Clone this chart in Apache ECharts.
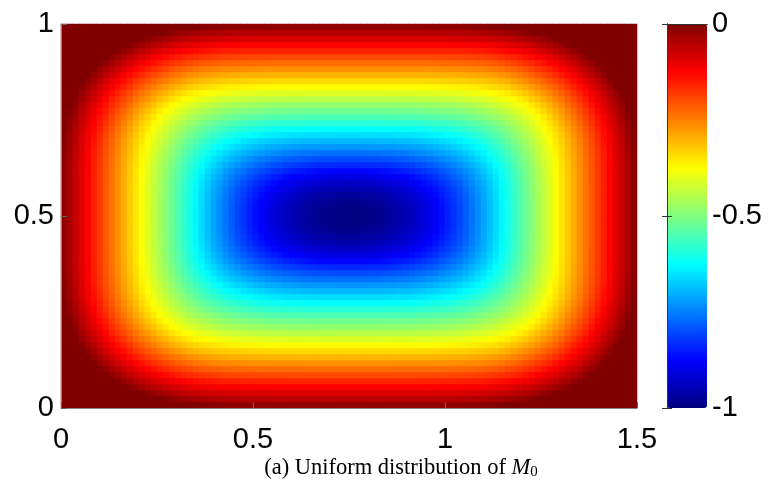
<!DOCTYPE html>
<html><head><meta charset="utf-8">
<script src="https://cdn.jsdelivr.net/npm/echarts@6/dist/echarts.min.js"></script>
<style>html,body{margin:0;padding:0;background:#fff}#c{width:769px;height:491px}</style>
</head><body><div id="c"></div>
<script>
// Tick labels
const xTicks = [0, 0.5, 1, 1.5];
const yTicks = [0, 0.5, 1];
const cbTicks = [-1, -0.5, 0];
const caption = '(a) Uniform distribution of ';

// Field value read along the horizontal mid-line (y = 0.5), 96 columns from x=0 to x=1.5
const xMid = [-0.014,-0.042,-0.070,-0.098,-0.127,-0.155,-0.183,-0.211,-0.239,-0.267,-0.295,-0.323,-0.352,-0.380,-0.408,-0.436,-0.464,-0.492,-0.520,-0.548,-0.577,-0.605,-0.633,-0.661,-0.688,-0.714,-0.739,-0.763,-0.785,-0.807,-0.827,-0.846,-0.864,-0.881,-0.897,-0.912,-0.925,-0.938,-0.949,-0.959,-0.968,-0.976,-0.983,-0.989,-0.993,-0.996,-0.999,-1.000,
  -1.000,-0.999,-0.996,-0.993,-0.989,-0.983,-0.976,-0.968,-0.959,-0.949,-0.938,-0.925,-0.912,-0.897,-0.881,-0.864,-0.846,-0.827,-0.807,-0.785,-0.763,-0.739,-0.714,-0.688,-0.661,-0.633,-0.605,-0.577,-0.548,-0.520,-0.492,-0.464,-0.436,-0.408,-0.380,-0.352,-0.323,-0.295,-0.267,-0.239,-0.211,-0.183,-0.155,-0.127,-0.098,-0.070,-0.042,-0.014];

// Field value read along the vertical mid-line (x = 0.75), 64 rows from y=0 to y=1
const yMid = [-0.018,-0.053,-0.089,-0.125,-0.160,-0.196,-0.232,-0.267,-0.303,-0.338,-0.374,-0.410,-0.445,-0.481,-0.517,-0.552,-0.588,-0.623,-0.659,-0.695,-0.730,-0.766,-0.802,-0.837,-0.873,-0.904,-0.932,-0.954,-0.972,-0.986,-0.995,-0.999,
  -0.999,-0.995,-0.986,-0.972,-0.954,-0.932,-0.904,-0.873,-0.837,-0.802,-0.766,-0.730,-0.695,-0.659,-0.623,-0.588,-0.552,-0.517,-0.481,-0.445,-0.410,-0.374,-0.338,-0.303,-0.267,-0.232,-0.196,-0.160,-0.125,-0.089,-0.053,-0.018];

// Contour roundness seen in the picture: elliptical core, rounded-rectangle outer rings
const coreShape = [1];
const edgeShape = [3];

const jet = ['#000080','#0000ff','#0080ff','#00ffff','#80ff80','#ffff00','#ff8000','#ff0000','#800000'];

const xCats = xMid.map((_, i) => i);
const yCats = yMid.map((_, j) => j);
const cells = [];
for (let i = 0; i < xMid.length; i++) {
  for (let j = 0; j < yMid.length; j++) {
    const gx = 1 + xMid[i], gy = 1 + yMid[j];
    const p = coreShape[0] + (edgeShape[0] - coreShape[0]) * Math.min(1, gx + gy);
    const r = Math.pow(Math.pow(gx, p) + Math.pow(gy, p), 1 / p);
    cells.push([i, j, -Math.max(0, 1 - r)]);
  }
}

const font = 'Liberation Sans';
const labelY = {fontSize: 29, color: '#000', fontFamily: font, padding: [6, 0, 0, 0]};
const chart = echarts.init(document.getElementById('c'), null, {renderer: 'canvas'});
chart.setOption({
  animation: false,
  backgroundColor: '#fff',
  grid: [
    {left: 61, top: 24, width: 576, height: 384},
    {left: 667, top: 24, width: 40, height: 384}
  ],
  xAxis: [
    {type: 'category', gridIndex: 0, data: xCats, show: false, position: 'top'},
    {type: 'value', gridIndex: 0, min: xTicks[0], max: xTicks[xTicks.length - 1], interval: xTicks[1] - xTicks[0], position: 'bottom', z: 5,
      axisLine: {show: true, lineStyle: {color: '#888', width: 1}},
      axisTick: {show: true, inside: true, length: 6, lineStyle: {color: '#666'}},
      axisLabel: {fontSize: 29, color: '#000', fontFamily: font, margin: 17},
      splitLine: {show: false}},
    {type: 'value', gridIndex: 1, min: 0, max: 1, position: 'bottom', z: 6,
      axisLine: {show: true, lineStyle: {color: '#333'}}, axisTick: {show: false}, axisLabel: {show: false}, splitLine: {show: false}},
    {type: 'value', gridIndex: 1, min: 0, max: 1, position: 'top', z: 6,
      axisLine: {show: true, lineStyle: {color: '#333'}}, axisTick: {show: false}, axisLabel: {show: false}, splitLine: {show: false}}
  ],
  yAxis: [
    {type: 'category', gridIndex: 0, data: yCats, show: false, position: 'right'},
    {type: 'value', gridIndex: 0, min: yTicks[0], max: yTicks[yTicks.length - 1], interval: yTicks[1] - yTicks[0], position: 'left', z: 5,
      axisLine: {show: true, lineStyle: {color: '#888', width: 1}},
      axisTick: {show: true, inside: true, length: 6, lineStyle: {color: '#666'}},
      axisLabel: Object.assign({margin: 7}, labelY),
      splitLine: {show: false}},
    {type: 'value', gridIndex: 1, min: cbTicks[0], max: cbTicks[cbTicks.length - 1], interval: cbTicks[1] - cbTicks[0], position: 'right', z: 6,
      axisLine: {show: true, lineStyle: {color: '#333'}},
      axisTick: {show: true, inside: true, length: 5, lineStyle: {color: '#333'}},
      axisLabel: Object.assign({margin: 5}, labelY),
      splitLine: {show: false}},
    {type: 'value', gridIndex: 1, min: cbTicks[0], max: cbTicks[cbTicks.length - 1], interval: cbTicks[1] - cbTicks[0], position: 'left', z: 6,
      axisLine: {show: true, lineStyle: {color: '#333'}},
      axisTick: {show: true, inside: true, length: 5, lineStyle: {color: '#333'}},
      axisLabel: {show: false}, splitLine: {show: false}}
  ],
  visualMap: {
    type: 'continuous', min: cbTicks[0], max: cbTicks[cbTicks.length - 1], seriesIndex: 0, dimension: 2,
    calculable: false, hoverLink: false, left: 667, top: 24, itemWidth: 40, itemHeight: 384, padding: 0,
    text: null, inRange: {color: jet}
  },
  series: [{
    type: 'heatmap', xAxisIndex: 0, yAxisIndex: 0, data: cells, progressive: 0,
    itemStyle: {borderWidth: 0}, emphasis: {disabled: true}
  }],
  graphic: [{
    type: 'text', x: 401, y: 468, z: 10,
    style: {
      text: caption + '{i|M}{s|0}',
      fontFamily: 'Liberation Serif', fontSize: 22.5, fill: '#000', align: 'center', verticalAlign: 'middle',
      rich: {
        i: {fontFamily: 'Liberation Serif', fontSize: 22.5, fontStyle: 'italic'},
        s: {fontFamily: 'Liberation Serif', fontSize: 15, verticalAlign: 'bottom', lineHeight: 15}
      }
    }
  }]
});
</script></body></html>
